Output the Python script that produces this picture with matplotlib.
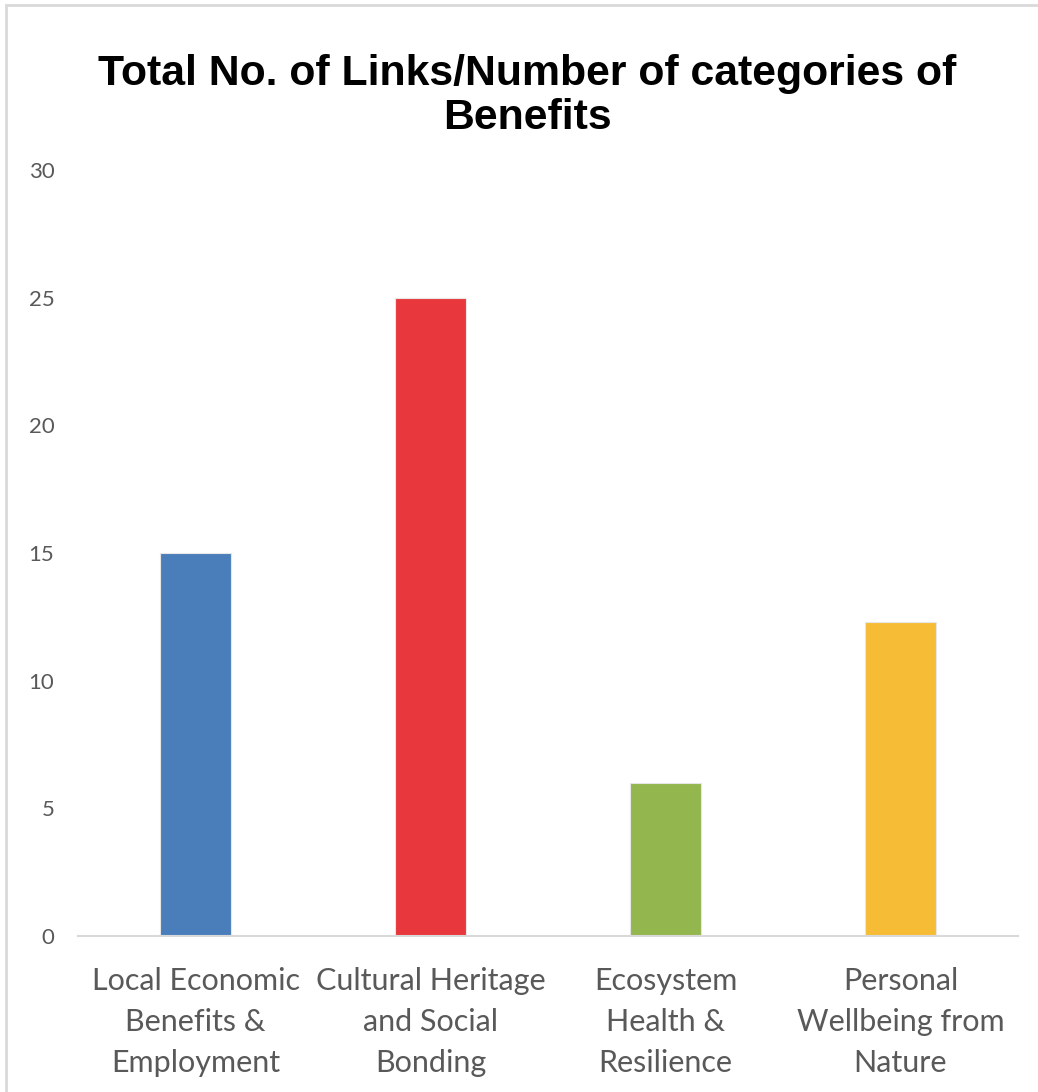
import matplotlib
matplotlib.use("Agg")
import matplotlib.pyplot as plt
from matplotlib.patches import Rectangle

# benefit categories and number of links
categories = ["Local Economic\nBenefits &\nEmployment",
              "Cultural Heritage\nand Social\nBonding",
              "Ecosystem\nHealth &\nResilience",
              "Personal\nWellbeing from\nNature"]
links = [15, 25, 6, 12.3]
colors = ["#4a7ebb", "#e8383d", "#94b64e", "#f6bc35"]
yticks = [0, 5, 10, 15, 20, 25, 30]

W, H = 1038, 1092
fig = plt.figure(figsize=(W / 100, H / 100), dpi=100)
fig.patch.set_facecolor("white")

# light frame round the chart area
fig.add_artist(Rectangle((6 / W, -0.01), 1.2, 1 - 5 / H + 0.01, transform=fig.transFigure,
                         fill=False, edgecolor="#d9d9d9", linewidth=2))

ax = fig.add_axes([78 / W, 156 / H, 940 / W, 766 / H])
x = list(range(len(categories)))
ax.bar(x, links, width=0.306, color=colors, edgecolor="#e6e6e6", linewidth=0.8, zorder=2)

ax.set_xlim(-0.5, 3.5)
ax.set_ylim(0, 30)
ax.set_yticks(yticks)
ax.set_yticklabels([str(t) for t in yticks], family="Lato", fontsize=16, color="#595959")
ax.set_xticks(x)
ax.set_xticklabels(categories, family="Lato", fontsize=22, color="#595959",
                   linespacing=1.57)
ax.tick_params(axis="both", length=0)
ax.tick_params(axis="y", pad=17)
ax.tick_params(axis="x", pad=22)

for side in ["top", "right", "left"]:
    ax.spines[side].set_visible(False)
ax.spines["bottom"].set_color("#d9d9d9")
ax.spines["bottom"].set_linewidth(1.5)

fig.text(527 / W, 1 - 96 / H, "Total No. of Links/Number of categories of\nBenefits",
         ha="center", va="center", family="Liberation Sans", fontweight="bold",
         fontsize=30.8, linespacing=1.16)

fig.savefig("out.png", dpi=100)
